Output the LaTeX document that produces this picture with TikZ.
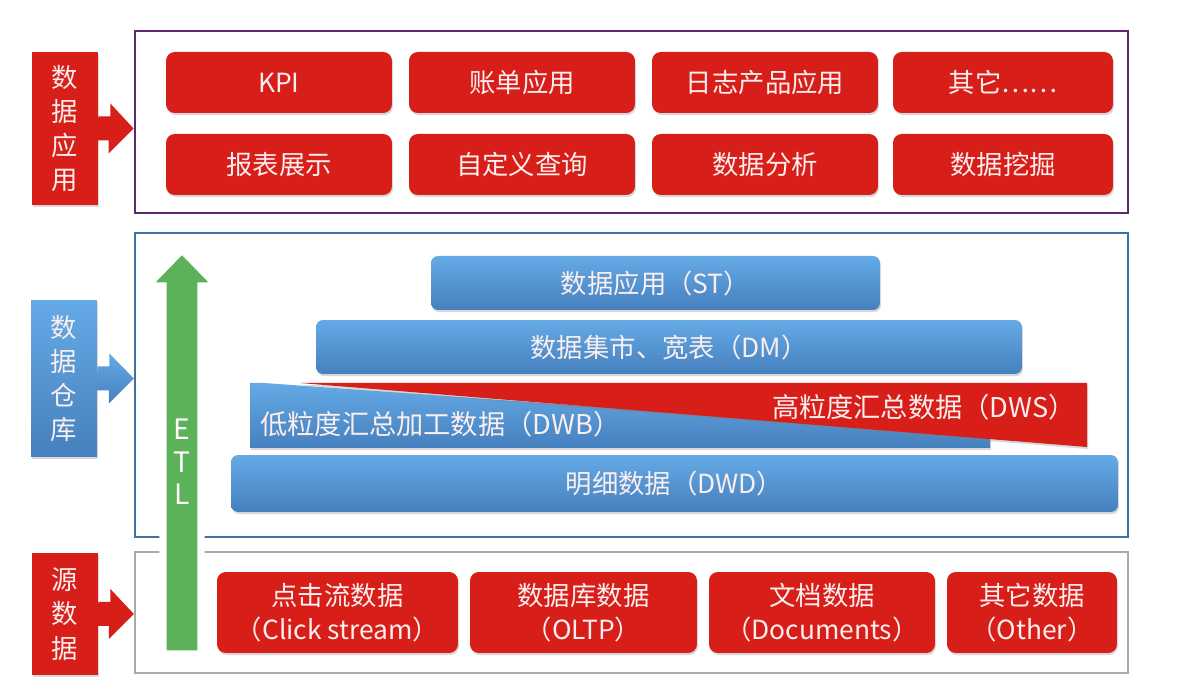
\documentclass[tikz,border=0pt]{standalone}
\usepackage{fontspec}
\setmainfont{Noto Sans CJK SC}
\usepackage{tikz}
\usetikzlibrary{positioning}
\usetikzlibrary{fit}
\usetikzlibrary{shadows}

\definecolor{appred}{RGB}{216,30,24}
\definecolor{barblue}{RGB}{100,170,230}
\definecolor{barbluedk}{RGB}{70,128,190}
\definecolor{etlgreen}{RGB}{92,178,88}
\definecolor{framepurple}{RGB}{94,40,110}
\definecolor{frameblue}{RGB}{64,112,156}
\definecolor{framegray}{RGB}{170,170,170}
\definecolor{textwhite}{RGB}{250,238,238}

% arrow from a side label to its frame
\newcommand{\sideArrow}[3]{%
  \path[#3] (#1.east) ++(0,-12) -- ++(12,0) -- ++(0,-13) -- (#2.west |- #1.east)
    -- ++(-25,25) -- ++(0,-13) -- ++(-12,0) -- cycle;}

\begin{document}
\begin{tikzpicture}[x=0.02cm, y=-0.02cm]
\tikzset{
    redBox/.style={
                   fill=appred,
                   rounded corners=5pt,
                   text=textwhite,
                   font=\fontsize{15}{19}\selectfont,
                   minimum width=4.52cm,
                   minimum height=1.22cm,
                   inner sep=0pt,
                   align=center,
                   drop shadow={opacity=0.3, shadow xshift=0.6pt, shadow yshift=-1.2pt}
    },
    blueBar/.style={
                   top color=barblue,
                   bottom color=barbluedk,
                   rounded corners=4pt,
                   text=textwhite,
                   font=\fontsize{15}{19}\selectfont,
                   minimum height=1.08cm,
                   inner sep=0pt,
                   drop shadow={opacity=0.3, shadow xshift=0.6pt, shadow yshift=-1.2pt}
    },
    barText/.style={
                   text=textwhite,
                   font=\fontsize{15.5}{19}\selectfont,
                   inner sep=0pt
    },
    sideLabel/.style={
                   minimum width=1.32cm,
                   inner sep=0pt,
                   align=center,
                   text=textwhite,
                   font=\fontsize{15}{19.5}\selectfont,
                   drop shadow={opacity=0.3, shadow xshift=0.8pt, shadow yshift=-1.2pt}
    },
    frameBox/.style={
                   inner sep=0pt,
                   line width=1.3pt
    }
}
    \fill[white] (0,0) rectangle (1178,695);
    \useasboundingbox (0,0) rectangle (1178,695);

    % frames
    \node (appFrame)[frameBox, draw=framepurple, line width=1.6pt, fit={(135,31) (1128,213)}] {};
    \node (dwFrame)[frameBox, draw=frameblue, fit={(135,233) (1128,537)}] {};
    \node (srcFrame)[frameBox, draw=framegray, fit={(135,552) (1128,673)}] {};

    % side labels
    \node (app)[sideLabel, fill=appred, minimum height=3.06cm] at (65,128.5) {数\\据\\应\\用};
    \node (dw)[sideLabel, top color=barblue, bottom color=barbluedk, minimum height=3.14cm] at (64,378.5) {数\\据\\仓\\库};
    \node (src)[sideLabel, fill=appred, minimum height=2.44cm] at (65,614) {源\\数\\据};

    \sideArrow{app}{appFrame}{fill=appred}
    \sideArrow{dw}{dwFrame}{top color=barblue, bottom color=barbluedk}
    \sideArrow{src}{srcFrame}{fill=appred}

    % ETL
    \path[fill=etlgreen, draw=white, line width=4pt, line join=miter,
          drop shadow={opacity=0.3, shadow xshift=1.2pt, shadow yshift=-1.2pt}]
        (163,654) -- (163,286) -- (147,286) -- (182,250) -- (217,286) -- (201,286) -- (201,654) -- cycle;
    \node (etl)[text=white, align=center, font=\fontsize{16}{18.5}\selectfont] at (182,462) {E\\T\\L};

    % applications
    \node (kpi)[redBox] at (279,82.5) {KPI};
    \node (bill)[redBox] at (522,82.5) {账单应用};
    \node (log)[redBox] at (765,82.5) {日志产品应用};
    \node (other)[redBox, minimum width=4.4cm] at (1003,82.5) {其它……};
    \node (report)[redBox] at (279,164.5) {报表展示};
    \node (query)[redBox] at (522,164.5) {自定义查询};
    \node (analysis)[redBox] at (765,164.5) {数据分析};
    \node (mining)[redBox, minimum width=4.4cm] at (1003,164.5) {数据挖掘};

    % warehouse layers
    \node (st)[blueBar, minimum width=8.98cm] at (655.5,283) {数据应用（ST）};
    \node (dm)[blueBar, minimum width=14.12cm] at (669,347) {数据集市、宽表（DM）};
    \shade[top color=barblue, bottom color=barbluedk,
           drop shadow={opacity=0.3, shadow xshift=0.6pt, shadow yshift=-1.2pt}]
        (250,448) -- (250,383) -- (264,383) -- (990,435) -- (990,448) -- cycle;
    \fill[appred, drop shadow={opacity=0.3, shadow xshift=0.6pt, shadow yshift=-1.2pt}]
        (300,383) -- (1087,383) -- (1087,447) -- cycle;
    \node (dwb)[barText, anchor=west] at (260,424) {低粒度汇总加工数据（DWB）};
    \node (dws)[barText, anchor=east] at (1076,407) {高粒度汇总数据（DWS）};
    \node (dwd)[blueBar, minimum width=17.74cm, minimum height=1.14cm] at (674.5,483.5) {明细数据（DWD）};

    % sources
    \node (click)[redBox, minimum width=4.82cm, minimum height=1.62cm] at (337.5,612.5) {点击流数据\\（Click stream）};
    \node (oltp)[redBox, minimum width=4.54cm, minimum height=1.62cm] at (583.5,612.5) {数据库数据\\（OLTP）};
    \node (docs)[redBox, minimum width=4.52cm, minimum height=1.62cm] at (822,612.5) {文档数据\\（Documents）};
    \node (otherSrc)[redBox, minimum width=3.4cm, minimum height=1.62cm] at (1032,612.5) {其它数据\\（Other）};

\end{tikzpicture}
\end{document}
